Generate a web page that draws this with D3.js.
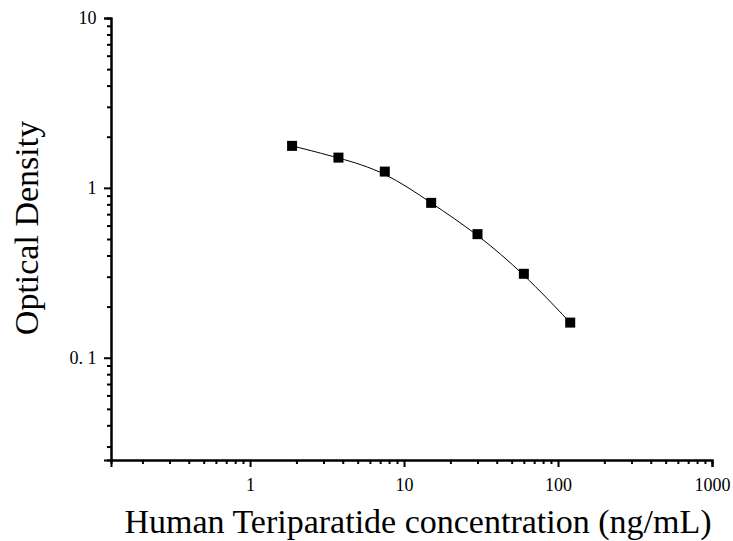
<!DOCTYPE html>
<html>
<head>
<meta charset="utf-8">
<script src="https://cdn.jsdelivr.net/npm/d3@7"></script>
<style>
body { margin: 0; background: #fff; }
svg text { font-family: "Liberation Serif", "Times New Roman", serif; }
</style>
</head>
<body>
<svg id="chart" width="733" height="541"></svg>
<script>
// standard curve points
var conc = [1.875, 3.75, 7.5, 15, 30, 60, 120];
var od = [1.767, 1.507, 1.247, 0.816, 0.534, 0.312, 0.161];

var xTicks = [1, 10, 100, 1000];
var xTickLabels = ['1', '10', '100', '1000'];
var yTicks = [0.1, 1, 10];
var yTickLabels = ['0. 1', '1', '10'];

(function() {
var svg = d3.select('#chart');

var mLeft = 111, mRight = 712, mTop = 18, mBottom = 460;

var x = d3.scaleLog().domain([0.125, 1000]).range([mLeft, mRight]);
var y = d3.scaleLog().domain([0.025, 10]).range([mBottom, mTop]);

// minor tick values
var xMinor = [], yMinor = [];
[0.1, 1, 10, 100].forEach(function(d) {
    for (var k = 2; k <= 9; k++) {
        var v = d * k;
        if (v >= 0.125 && v <= 1000) xMinor.push(v);
    }
});
[0.01, 0.1, 1].forEach(function(d) {
    for (var k = 2; k <= 9; k++) {
        var v = d * k;
        if (v >= 0.025 && v <= 10) yMinor.push(v);
    }
});

// x axis
var gx = svg.append('g').attr('transform', 'translate(0,' + mBottom + ')');
gx.call(d3.axisBottom(x).tickValues(xMinor).tickSize(4).tickFormat(''));
gx.append('g').call(d3.axisBottom(x).tickValues(xTicks).tickSize(7)
    .tickFormat(function(d, i) { return xTickLabels[i]; }));

// y axis
var gy = svg.append('g').attr('transform', 'translate(' + mLeft + ',0)');
gy.call(d3.axisLeft(y).tickValues(yMinor).tickSize(4).tickFormat(''));
gy.append('g').call(d3.axisLeft(y).tickValues(yTicks).tickSize(7)
    .tickFormat(function(d, i) { return yTickLabels[i]; }));

svg.selectAll('.domain').attr('stroke', '#000').attr('stroke-width', 2);
svg.selectAll('.tick line').attr('stroke', '#000').attr('stroke-width', 2);
svg.selectAll('g').attr('font-size', null);
svg.selectAll('.tick text').attr('fill', '#000').style('font-size', '18px')
    .style('font-family', '"Liberation Serif", serif');
gx.selectAll('.tick text').attr('dy', '1.15em');
gy.selectAll('.tick text').attr('dx', '-0.25em');

// fitted curve
var line = d3.line()
    .x(function(d, i) { return x(conc[i]); })
    .y(function(d) { return y(d); })
    .curve(d3.curveBasis);

svg.append('path')
    .attr('d', line(od))
    .attr('fill', 'none')
    .attr('stroke', '#000')
    .attr('stroke-width', 1);

// points
svg.selectAll('rect.pt').data(od)
    .enter().append('rect')
        .attr('class', 'pt')
        .attr('x', function(d, i) { return x(conc[i]) - 5; })
        .attr('y', function(d) { return y(d) - 5; })
        .attr('width', 10)
        .attr('height', 10)
        .attr('fill', '#000');

// axis titles
svg.append('text')
    .attr('x', 418)
    .attr('y', 533)
    .attr('text-anchor', 'middle')
    .style('font-size', '34px')
    .text('Human Teriparatide concentration (ng/mL)');

svg.append('text')
    .attr('transform', 'translate(38,228) rotate(-90)')
    .attr('text-anchor', 'middle')
    .style('font-size', '34px')
    .text('Optical Density');
})();
</script>
</body>
</html>
